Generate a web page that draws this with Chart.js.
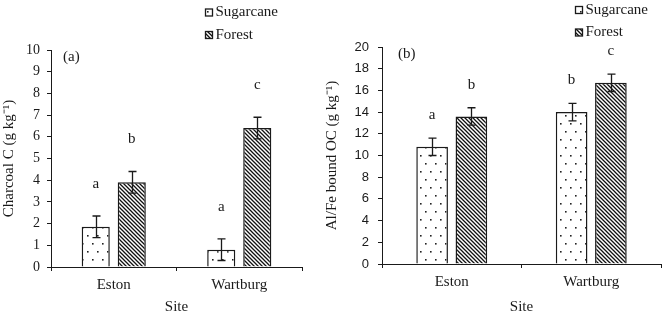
<!DOCTYPE html>
<html>
<head>
<meta charset="utf-8">
<script src="https://cdn.jsdelivr.net/npm/chart.js@4"></script>
<style>
  body { margin: 0; background: #fff; width: 662px; height: 316px; position: relative; overflow: hidden; }
  #boxA { position: absolute; left: 0; top: 0; width: 323px; height: 316px; }
  #boxB { position: absolute; left: 323px; top: 0; width: 339px; height: 316px; }
</style>
</head>
<body>
<div id="boxA"><canvas id="chartA" width="323" height="316"></canvas></div>
<div id="boxB"><canvas id="chartB" width="339" height="316"></canvas></div>
<script>
// data
var sites = ['Eston', 'Wartburg'];
var seriesNames = ['Sugarcane', 'Forest'];

var charcoalSugarcane = [1.85, 0.8];
var charcoalSugarcaneErr = [0.5, 0.5];
var charcoalSugarcaneLetters = ['a', 'a'];
var charcoalForest = [3.9, 6.4];
var charcoalForestErr = [0.5, 0.5];
var charcoalForestLetters = ['b', 'c'];

var alfeSugarcane = [10.8, 14.0];
var alfeSugarcaneErr = [0.8, 0.8];
var alfeSugarcaneLetters = ['a', 'b'];
var alfeForest = [13.6, 16.7];
var alfeForestErr = [0.8, 0.8];
var alfeForestLetters = ['b', 'c'];

var ink = '#1a1a1a';
var serif = "'Liberation Serif', 'Times New Roman', serif";
var sans = "'Liberation Sans', Arial, sans-serif";

// fill patterns
function dots() {
	var c = document.createElement('canvas');
	c.width = 10; c.height = 16;
	var x = c.getContext('2d');
	x.fillStyle = '#fff';
	x.fillRect(0, 0, 10, 16);
	x.fillStyle = '#222';
	x.fillRect(2, 3, 1.6, 1.6);
	x.fillRect(7, 11, 1.6, 1.6);
	return x.createPattern(c, 'repeat');
}

function hatch() {
	var s = 4;
	var c = document.createElement('canvas');
	c.width = s; c.height = s;
	var x = c.getContext('2d');
	x.fillStyle = '#fff';
	x.fillRect(0, 0, s, s);
	x.strokeStyle = '#111';
	x.lineWidth = 1.3;
	x.beginPath();
	x.moveTo(0, 0); x.lineTo(s, s);
	x.moveTo(-1, s - 1); x.lineTo(1, s + 1);
	x.moveTo(s - 1, -1); x.lineTo(s + 1, 1);
	x.stroke();
	return x.createPattern(c, 'repeat');
}

var dotFill = dots();
var hatchFill = hatch();

// error bars, letters, legend and panel tag
var extras = {
	id: 'extras',
	afterDatasetsDraw: function(chart, args, o) {
		var ctx = chart.ctx, y = chart.scales.y;
		ctx.save();
		ctx.strokeStyle = ink;
		ctx.fillStyle = ink;
		ctx.lineWidth = 1.3;
		ctx.font = '15px ' + serif;
		ctx.textAlign = 'center';
		ctx.textBaseline = 'middle';
		chart.data.datasets.forEach(function(ds, i) {
			chart.getDatasetMeta(i).data.forEach(function(bar, j) {
				var hi = y.getPixelForValue(ds.data[j] + ds.err[j]);
				var lo = y.getPixelForValue(ds.data[j] - ds.err[j]);
				var x = Math.round(bar.x) + 0.5;
				ctx.beginPath();
				ctx.moveTo(x, hi); ctx.lineTo(x, lo);
				ctx.moveTo(x - 4, hi); ctx.lineTo(x + 4, hi);
				ctx.moveTo(x - 4, lo); ctx.lineTo(x + 4, lo);
				ctx.stroke();
				ctx.fillText(ds.letters[j], bar.x, hi - o.letterGap);
			});
		});

		// legend, two rows
		ctx.textAlign = 'left';
		chart.data.datasets.forEach(function(ds, i) {
			var cy = o.legendY + i * 22.5;
			ctx.fillStyle = ds.backgroundColor;
			ctx.fillRect(o.legendX, cy - 3.5, 7, 7);
			ctx.strokeStyle = ink;
			ctx.lineWidth = 1.3;
			ctx.strokeRect(o.legendX, cy - 3.5, 7, 7);
			ctx.fillStyle = ink;
			ctx.fillText(ds.label, o.legendX + 10, cy);
		});

		ctx.fillText(o.tag, o.tagX, o.tagY);
		ctx.restore();
	}
};

function makeChart(id, a, aErr, aLet, b, bErr, bLet, cfg) {
	return new Chart(document.getElementById(id), {
		type: 'bar',
		data: {
			labels: sites,
			datasets: [{
				label: seriesNames[0],
				data: a, err: aErr, letters: aLet,
				backgroundColor: dotFill,
				borderColor: ink,
				borderWidth: 1.5,
				borderSkipped: 'start'
			}, {
				label: seriesNames[1],
				data: b, err: bErr, letters: bLet,
				backgroundColor: hatchFill,
				borderColor: ink,
				borderWidth: 1.5,
				borderSkipped: 'start'
			}]
		},
		options: {
			responsive: false,
			animation: false,
			categoryPercentage: cfg.catPct,
			barPercentage: cfg.barPct,
			layout: { padding: { top: cfg.top, right: cfg.right, left: 0, bottom: 0 } },
			plugins: {
				legend: { display: false },
				tooltip: { enabled: false },
				extras: cfg.extras
			},
			scales: {
				x: {
					grid: { drawOnChartArea: false, drawTicks: true, tickLength: 4, color: ink },
					border: { color: ink, width: 1 },
					ticks: { color: ink, font: { family: serif, size: 15 }, padding: 5 },
					title: { display: true, text: 'Site', color: ink, font: { family: serif, size: 15 }, padding: 0 },
					afterFit: function(s) { s.height = cfg.xHeight; }
				},
				y: {
					min: 0, max: cfg.max,
					grid: { drawOnChartArea: false, drawTicks: true, tickLength: 4, color: ink },
					border: { color: ink, width: 1 },
					ticks: { stepSize: cfg.step, color: ink, font: cfg.tickFont, padding: cfg.tickPad },
					title: { display: true, text: cfg.yTitle, color: ink, font: { family: serif, size: 15 }, padding: 0 },
					afterFit: function(s) { s.width = cfg.yWidth; }
				}
			}
		},
		plugins: [extras]
	});
}

makeChart('chartA',
	charcoalSugarcane, charcoalSugarcaneErr, charcoalSugarcaneLetters,
	charcoalForest, charcoalForestErr, charcoalForestLetters, {
		max: 10, step: 1, yTitle: 'Charcoal C (g kg\u207B\u00B9)',
		tickFont: { family: serif, size: 14 }, tickPad: 7,
		top: 50, right: 21, yWidth: 51, xHeight: 49,
		catPct: 0.574, barPct: 0.78,
		extras: { letterGap: 32, legendX: 205.5, legendY: 12.5, tag: '(a)', tagX: 63, tagY: 57 }
	});

makeChart('chartB',
	alfeSugarcane, alfeSugarcaneErr, alfeSugarcaneLetters,
	alfeForest, alfeForestErr, alfeForestLetters, {
		max: 20, step: 2, yTitle: 'Al/Fe bound OC (g kg\u207B\u00B9)',
		tickFont: { family: sans, size: 13 }, tickPad: 9,
		top: 47, right: 1, yWidth: 59, xHeight: 52,
		catPct: 0.563, barPct: 0.806,
		extras: { letterGap: 23, legendX: 252.5, legendY: 10, tag: '(b)', tagX: 75, tagY: 54 }
	});
</script>
</body>
</html>
